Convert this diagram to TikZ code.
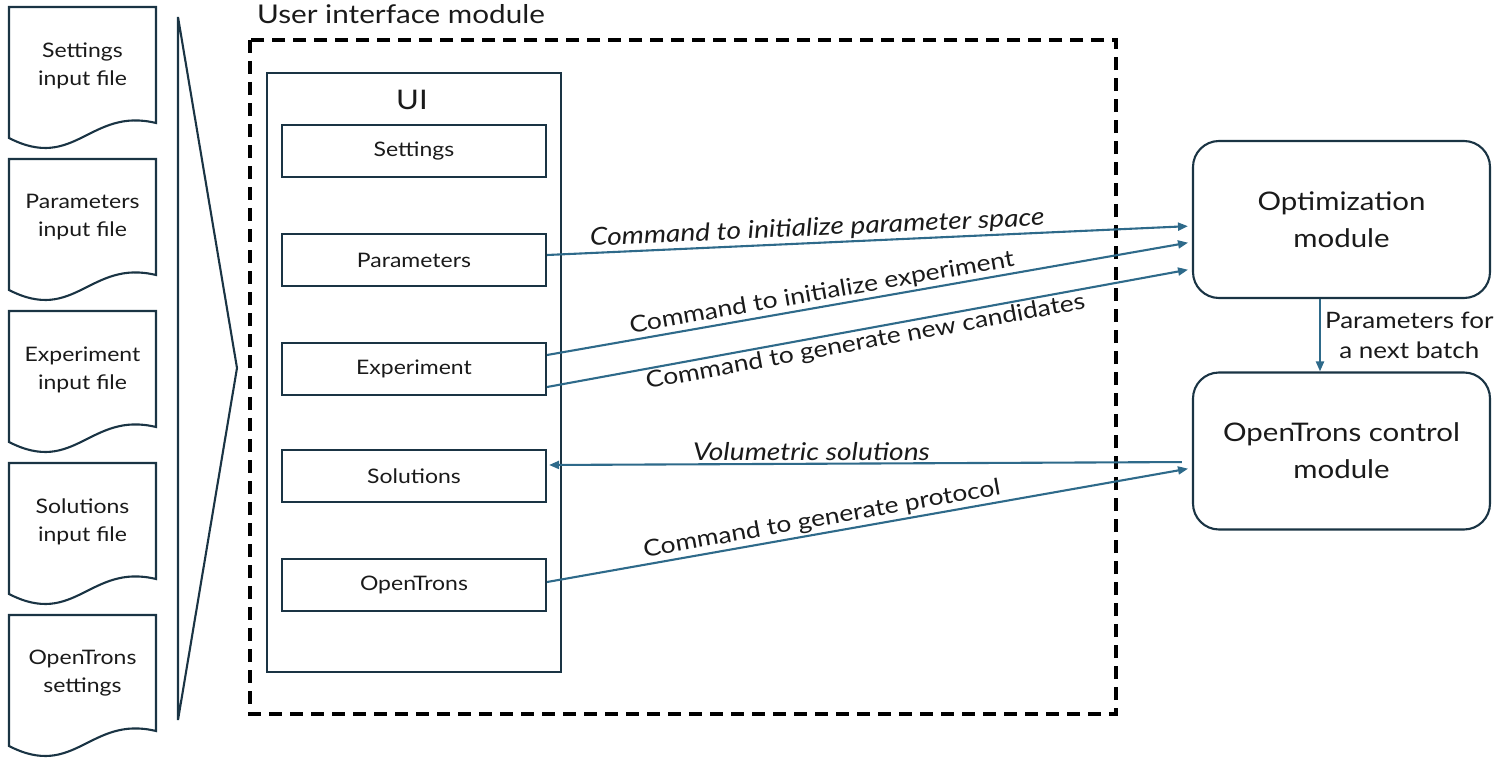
\documentclass[tikz,border=0pt]{standalone}
\usepackage{fontspec}
\setmainfont{Lato}[FakeStretch=1.15]
\usetikzlibrary{arrows.meta,calc}
\definecolor{navy}{HTML}{1A3444}
\definecolor{arr}{HTML}{2E6A8A}
\definecolor{txt}{HTML}{1A1A1A}
\newcommand\docshape[3]{%
  \draw[line] (9,#2) -- (156,#2) -- (156,#2+116) .. controls (90,#2+100) and (75,#2+165) .. (9,#2+131) -- cycle;
  \node[doctext] (#1) at (82.5,#2+58.5) {#3};
}
\begin{document}
\begin{tikzpicture}[x=1pt,y=-1pt,
  line/.style={draw=navy,line width=2.1pt},
  doctext/.style={font=\fontsize{20}{28}\selectfont, align=center, text=txt},
  inbox/.style={draw=navy,line width=2.1pt,minimum width=264pt,minimum height=52pt,font=\fontsize{20}{24}\selectfont,text=txt},
  modbox/.style={draw=navy,line width=2.1pt,rounded corners=26pt,minimum width=297pt,minimum height=157pt,align=center,font=\fontsize{25.6}{37}\selectfont,text=txt},
  conn/.style={draw=arr,line width=2.1pt,-{Triangle[length=10pt,width=8pt]}},
  lbl/.style={font=\fontsize{23}{26}\selectfont,text=txt,inner sep=2pt},
  ilbl/.style={font=\fontsize{24.5}{28}\selectfont\itshape,text=txt,inner sep=2pt}
]
\useasboundingbox (0,0) rectangle (1500,760);

% input documents
\docshape{dset}{7}{Settings\\input file}
\docshape{dpar}{159}{Parameters\\input file}
\docshape{dexp}{311}{Experiment\\input file}
\docshape{dsol}{463}{Solutions\\input file}
\docshape{dot}{615}{OpenTrons\\settings}

% funnel
\draw[line] (178,17) -- (237,368) -- (178,720) -- cycle;

% user interface module
\draw[black,line width=3.4pt,dash pattern=on 13pt off 8pt] (250,40) rectangle (1116,714);
\node[anchor=west,font=\fontsize{25.8}{28}\selectfont,text=txt,inner sep=0pt] (uimlabel) at (257,14) {User interface module};

% UI box
\node[draw=navy,line width=2.1pt,minimum width=294pt,minimum height=599pt,inner sep=0pt] (ui) at (414,372.5) {};
\node[font=\fontsize{27}{30}\selectfont,text=txt] (uititle) at (412,100) {UI};
\node[inbox] (set) at (414,151) {Settings};
\node[inbox] (par) at (414,260) {Parameters};
\node[inbox] (exp) at (414,369) {Experiment};
\node[inbox] (sol) at (414,476) {Solutions};
\node[inbox] (ot) at (414,585) {OpenTrons};

% modules
\node[modbox] (opt) at (1341.5,219.5) {Optimization\\module};
\node[modbox] (otc) at (1341.5,451) {OpenTrons control\\module};

% connectors
\draw[conn,shorten >=4pt] ([yshift=5pt]par.east) -- ([yshift=-6.5pt]opt.west)
  node[ilbl,pos=0.42,above,sloped] (l1) {Command to initialize parameter space};
\draw[conn,shorten >=4pt] ([yshift=14pt]exp.east) -- ([yshift=-22.5pt]opt.west)
  node[lbl,pos=0.43,above,sloped] (l2) {Command to initialize experiment};
\draw[conn,shorten >=4pt] ([yshift=-18pt]exp.east) -- ([yshift=-49.5pt]opt.west)
  node[lbl,pos=0.49,below,sloped] (l3) {Command to generate new candidates};
\draw[conn,shorten <=10pt,shorten >=2pt] ([yshift=-11pt]otc.west) -- ([yshift=11pt]sol.east)
  node[ilbl,pos=0.59,above] (l4) {Volumetric solutions};
\draw[conn,shorten >=4pt] ([yshift=3pt]ot.east) -- ([yshift=-17pt]otc.west)
  node[lbl,pos=0.43,above,sloped] (l5) {Command to generate protocol};
\draw[conn] ([xshift=-21.5pt]opt.south) -- ([xshift=-21.5pt]otc.north)
  node[midway,right,align=center,font=\fontsize{22.6}{30}\selectfont,text=txt,inner sep=4pt] (l6) {Parameters for\\a next batch};
\end{tikzpicture}
\end{document}
